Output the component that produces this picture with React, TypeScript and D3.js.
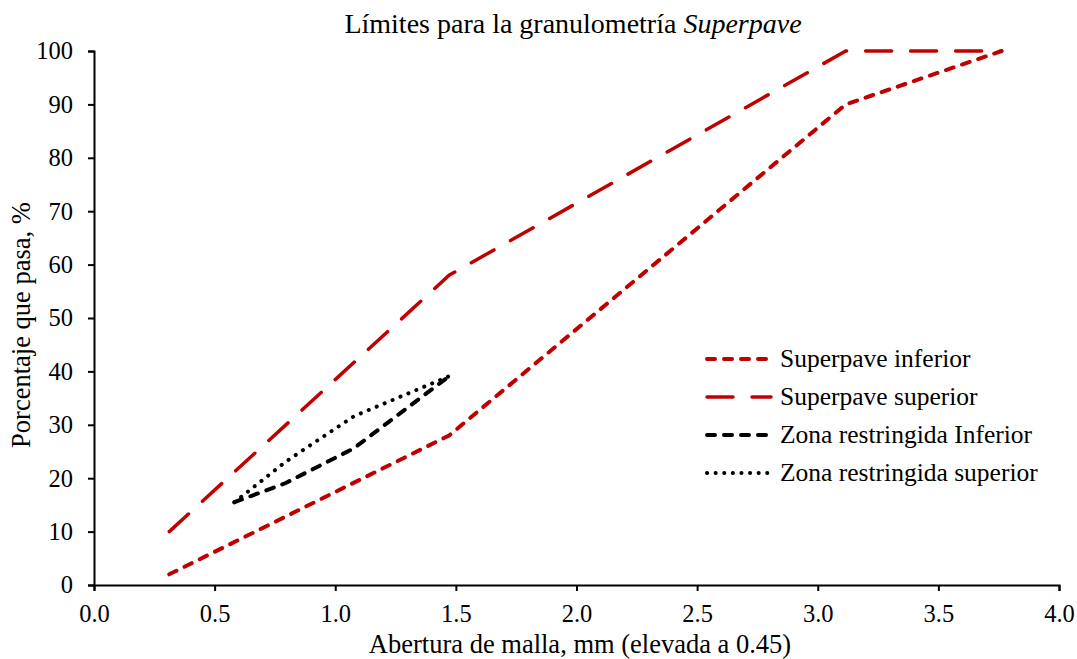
import React, { useRef, useEffect } from "react";
import * as d3 from "d3";

// abertura de malla elevada a 0.45
const xSuperpave = [0.312, 1.472, 3.116, 3.762];
const superpaveInferior = [2, 28, 90, 100];
const superpaveSuperior = [10, 58, 100, 100];

const xZona = [0.582, 0.795, 1.077, 1.472];
const zonaInferior = [15.5, 19.1, 25.6, 39.1];
const zonaSuperior = [15.5, 23.1, 31.6, 39.1];

const xTicks = [0, 0.5, 1, 1.5, 2, 2.5, 3, 3.5, 4];
const yTicks = [0, 10, 20, 30, 40, 50, 60, 70, 80, 90, 100];

const RED = "#C00000";
const FONT = "'Liberation Serif', 'DejaVu Serif', serif";

const series = [
  { name: "Superpave inferior", xs: xSuperpave, ys: superpaveInferior, color: RED, width: 4, dash: "8,9" },
  { name: "Superpave superior", xs: xSuperpave, ys: superpaveSuperior, color: RED, width: 3.5, dash: "26,19" },
  { name: "Zona restringida Inferior", xs: xZona, ys: zonaInferior, color: "#000", width: 4, dash: "8,9" },
  { name: "Zona restringida superior", xs: xZona, ys: zonaSuperior, color: "#000", width: 4, dash: "0.1,8.5" },
];

const App = () => {
  const svgRef = useRef<SVGSVGElement>(null);

  useEffect(() => {
    const width = 1077;
    const height = 659;
    const margin = { top: 51, right: 18, bottom: 74, left: 94 };

    const svg = d3.select(svgRef.current);
    svg.selectAll("*").remove();
    svg.attr("width", width).attr("height", height);

    const x = d3.scaleLinear().domain([0, 4]).range([margin.left, width - margin.right]);
    const y = d3.scaleLinear().domain([0, 100]).range([height - margin.bottom, margin.top]);

    // axes
    const xAxis = svg
      .append("g")
      .attr("transform", `translate(0,${y(0)})`)
      .call(d3.axisBottom(x).tickValues(xTicks).tickFormat(d3.format(".1f")).tickSizeOuter(0).tickSize(6));
    xAxis.attr("font-family", FONT).attr("font-size", 24.5);
    xAxis.select(".domain").attr("stroke-width", 2);
    xAxis.selectAll(".tick line").attr("stroke-width", 2);
    xAxis.selectAll("text").attr("fill", "#000").attr("y", 20).attr("dy", "0.71em");

    const yAxis = svg
      .append("g")
      .attr("transform", `translate(${x(0)},0)`)
      .call(d3.axisLeft(y).tickValues(yTicks).tickSizeOuter(0).tickSize(6));
    yAxis.attr("font-family", FONT).attr("font-size", 24.5);
    yAxis.select(".domain").attr("stroke-width", 2);
    yAxis.selectAll(".tick line").attr("stroke-width", 2);
    yAxis.selectAll("text").attr("fill", "#000").attr("x", -21);

    // lines
    const line = d3
      .line<[number, number]>()
      .x((d) => x(d[0]))
      .y((d) => y(d[1]));

    series.forEach((s) => {
      const pts = s.xs.map((v, i) => [v, s.ys[i]] as [number, number]);
      svg
        .append("path")
        .attr("d", line(pts))
        .attr("fill", "none")
        .attr("stroke", s.color)
        .attr("stroke-width", s.width)
        .attr("stroke-dasharray", s.dash)
        .attr("stroke-linecap", "round");
    });

    // title
    const title = svg
      .append("text")
      .attr("x", 573)
      .attr("y", 33)
      .attr("text-anchor", "middle")
      .attr("font-family", FONT)
      .attr("font-size", 28)
      .text("Límites para la granulometría ");
    title.append("tspan").attr("font-style", "italic").text("Superpave");

    // axis titles
    svg
      .append("text")
      .attr("x", 580)
      .attr("y", 653)
      .attr("text-anchor", "middle")
      .attr("font-family", FONT)
      .attr("font-size", 26.5)
      .text("Abertura de malla, mm (elevada a 0.45)");

    svg
      .append("text")
      .attr("transform", `translate(30,325) rotate(-90)`)
      .attr("text-anchor", "middle")
      .attr("font-family", FONT)
      .attr("font-size", 26.5)
      .text("Porcentaje que pasa, %");

    // legend
    const legend = svg.append("g").attr("transform", "translate(705,359)");
    series.forEach((s, i) => {
      const row = legend.append("g").attr("transform", `translate(0,${i * 38})`);
      row
        .append("line")
        .attr("x1", 2)
        .attr("x2", 66)
        .attr("y1", 0)
        .attr("y2", 0)
        .attr("stroke", s.color)
        .attr("stroke-width", s.width)
        .attr("stroke-dasharray", s.dash)
        .attr("stroke-linecap", "round");
      row
        .append("text")
        .attr("x", 75)
        .attr("y", 0)
        .attr("dy", "0.33em")
        .attr("font-family", FONT)
        .attr("font-size", 25.5)
        .text(s.name);
    });
  }, []);

  return (
    <div style={{ position: "fixed", left: 0, top: 0, width: 1077, height: 659, overflow: "hidden", background: "#fff" }}>
      <svg ref={svgRef} style={{ display: "block" }}></svg>
    </div>
  );
};

export default App;
